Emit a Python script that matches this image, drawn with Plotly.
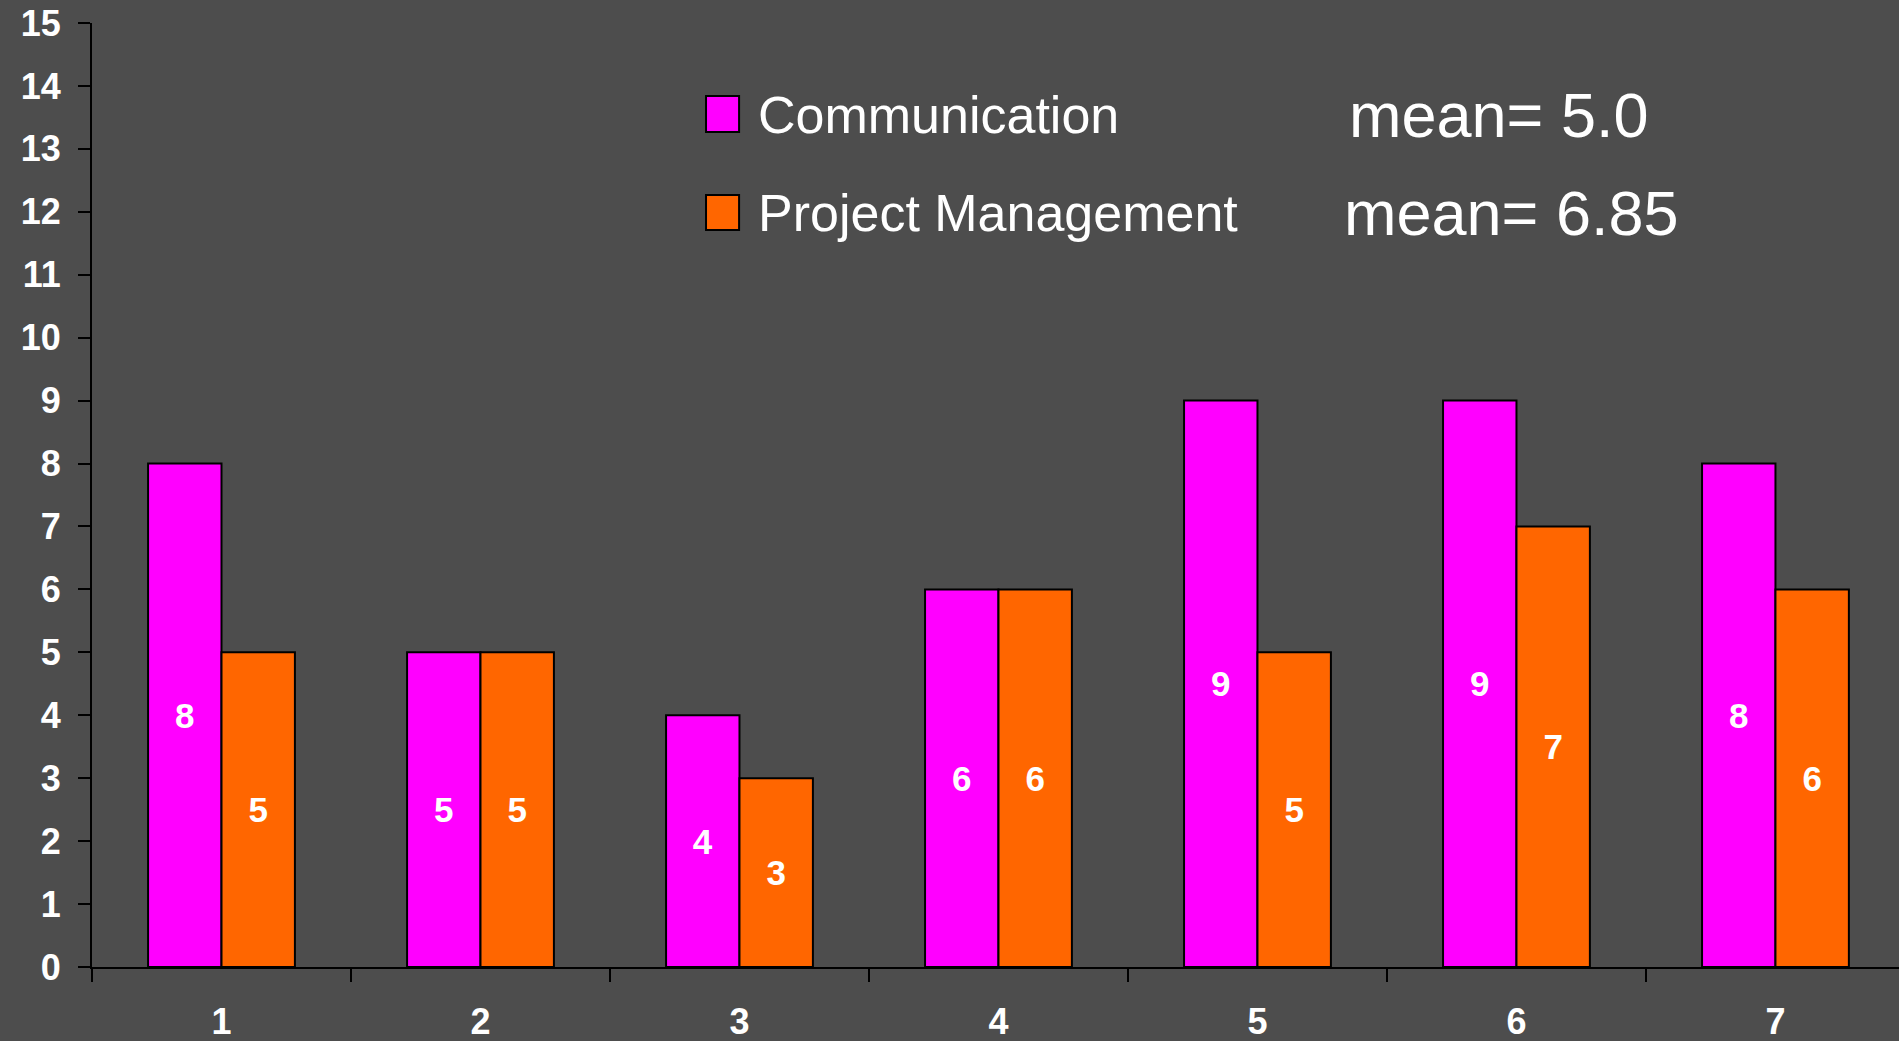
import plotly.graph_objects as go

categories = ["1", "2", "3", "4", "5", "6", "7"]
communication = [8, 5, 4, 6, 9, 9, 8]
project_mgmt = [5, 5, 3, 6, 5, 7, 6]
series_names = ["Communication", "Project Management"]
mean_labels = ["mean= 5.0", "mean= 6.85"]
y_ticks = list(range(0, 16))

colors = ["#FF00FF", "#FF6600"]
bg = "#4D4D4D"
font_family = "Liberation Sans, Arial, sans-serif"

fig = go.Figure()
for name, vals, col in zip(series_names, [communication, project_mgmt], colors):
    fig.add_trace(go.Bar(
        x=categories, y=vals, name=name,
        marker=dict(color=col, line=dict(color="black", width=2)),
        text=vals, texttemplate="%{text}",
        textposition="inside", insidetextanchor="middle",
        textfont=dict(color="white", size=35, family=font_family, weight="bold"),
        showlegend=False,
    ))

# custom legend (large swatches) and mean labels
legend_rows = [(0.9227, 0.8845, 0.9025), (0.8178, 0.7807, 0.7987)]
mean_x = [0.6945, 0.6917]
for i, (top, bot, mid) in enumerate(legend_rows):
    fig.add_shape(type="rect", xref="paper", yref="paper",
                  x0=0.3398, x1=0.3581, y0=bot, y1=top,
                  fillcolor=colors[i], line=dict(color="black", width=2))
    fig.add_annotation(xref="paper", yref="paper", x=0.3675, y=mid,
                       xanchor="left", yanchor="middle", showarrow=False,
                       text=series_names[i],
                       font=dict(color="white", size=52, family=font_family))
    fig.add_annotation(xref="paper", yref="paper", x=mean_x[i], y=mid,
                       xanchor="left", yanchor="middle", showarrow=False,
                       text=mean_labels[i],
                       font=dict(color="white", size=63, family=font_family))

fig.update_layout(
    width=1899, height=1041,
    paper_bgcolor=bg, plot_bgcolor=bg,
    margin=dict(l=92, r=0, t=23, b=74),
    barmode="group", bargap=0.433, bargroupgap=0,
    font=dict(family=font_family, color="white"),
    uniformtext=dict(mode="show", minsize=35),
)
fig.update_xaxes(
    type="category", categoryorder="array", categoryarray=categories,
    range=[-0.5, 6.477], tickson="boundaries", automargin=False,
    ticks="outside", ticklen=13, tickwidth=2, tickcolor="black",
    showline=True, linecolor="black", linewidth=2, showgrid=False,
    tickfont=dict(size=36, color="white", family=font_family, weight="bold"),
    ticklabelstandoff=22, zeroline=False,
)
fig.update_yaxes(
    range=[0, 15], tickvals=y_ticks, ticktext=[str(v) for v in y_ticks],
    automargin=False,
    ticks="outside", ticklen=12, tickwidth=2, tickcolor="black",
    showline=True, linecolor="black", linewidth=2, showgrid=False,
    zeroline=False,
    tickfont=dict(size=36, color="white", family=font_family, weight="bold"),
    ticklabelstandoff=10,
)

fig.write_html("out.html", config={"displayModeBar": False},
               post_script="document.body.style.margin='0';document.body.style.overflow='hidden';")
